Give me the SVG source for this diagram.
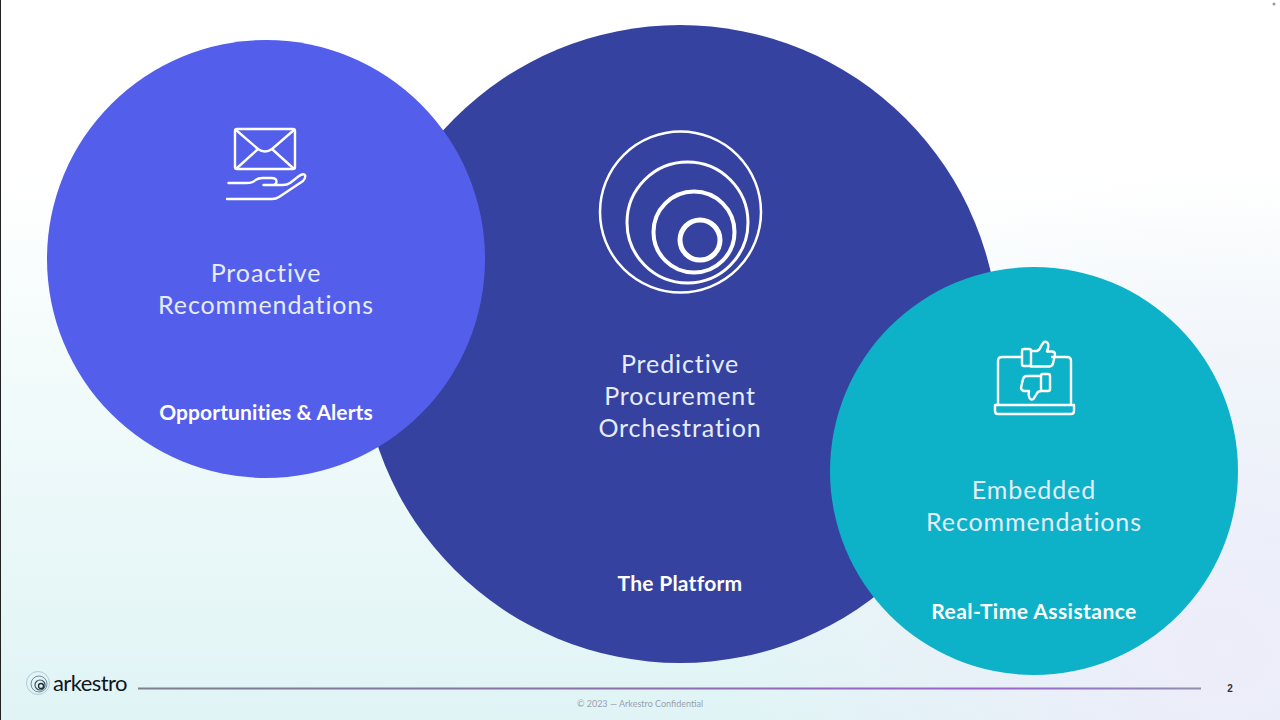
<svg xmlns="http://www.w3.org/2000/svg" width="1280" height="720" viewBox="0 0 1280 720">
<style>
.t{font-family:"Lato","Open Sans",sans-serif;font-size:25px;font-weight:400;fill:#e6ecfb;text-anchor:middle;letter-spacing:.9px}
.b{font-family:"Lato","Open Sans",sans-serif;font-size:21px;font-weight:700;fill:#fff;text-anchor:middle}
.i{fill:none;stroke:#fff;stroke-linecap:round;stroke-linejoin:round}
.r{fill:none;stroke:#fff}
</style>
<defs>
<linearGradient id="bgv" x1="0" y1="0" x2="0" y2="1">
<stop offset="0.25" stop-color="#fff"/><stop offset="0.5" stop-color="#f3fbfb"/><stop offset="1" stop-color="#e0f4f5"/>
</linearGradient>
<radialGradient id="bgr" gradientUnits="userSpaceOnUse" cx="1220" cy="650" r="480">
<stop offset="0" stop-color="#eeecfa" stop-opacity=".95"/><stop offset="1" stop-color="#eeecfa" stop-opacity="0"/>
</radialGradient>
<linearGradient id="ln" x1="0" y1="0" x2="1" y2="0">
<stop offset="0" stop-color="#7d7f8e"/><stop offset=".45" stop-color="#8a6fa8"/><stop offset=".8" stop-color="#9a62d0"/><stop offset="1" stop-color="#8f8fb0"/>
</linearGradient>
</defs>
<rect width="1280" height="720" fill="url(#bgv)"/>
<rect width="1280" height="720" fill="url(#bgr)"/>
<rect x="0" y="0" width="1" height="720" fill="#222"/>
<circle cx="1274" cy="4" r="1.5" fill="#999"/>

<g id="node-platform">
<circle cx="680" cy="344" r="319" fill="#3642a0"/>
<circle class="r" cx="680.5" cy="212" r="80.500" stroke-width="2.500"/>
<circle class="r" cx="687.500" cy="222.500" r="60.500" stroke-width="3"/>
<circle class="r" cx="694" cy="232" r="40.500" stroke-width="4"/>
<circle class="r" cx="700" cy="240" r="20" stroke-width="5"/>
<text class="t" x="680" y="373">Predictive</text>
<text class="t" x="680" y="405">Procurement</text>
<text class="t" x="680" y="437">Orchestration</text>
<text class="b" x="680" y="591" style="letter-spacing:.25px">The Platform</text>
</g>

<g id="node-proactive">
<circle cx="266" cy="259" r="219" fill="#535eeb"/>
<g class="i" stroke-width="2.400">
<rect x="235" y="129" width="60" height="40" rx="2"/>
<path d="M236 130l22 19q7 5 14 0l22-19M237 168l21-19M293 168l-21-19"/>
<path d="M228.500 183h18q6 0 9-3q3-2 7-2h9q5 0 5 3.500t-5 3.500h-8M275 185h8q4 0 7-2l9-7q4-3 6-1q1 3-2 6l-24 16q-3 2-7 2h-45"/>
</g>
<text class="t" x="266" y="282">Proactive</text>
<text class="t" x="266" y="314">Recommendations</text>
<text class="b" x="266" y="420" style="letter-spacing:.1px">Opportunities &amp; Alerts</text>
</g>

<g id="node-embedded">
<circle cx="1034" cy="471" r="204" fill="#0db2c9"/>
<g class="i" stroke-width="2.400">
<path d="M1022 357h-20q-4 0-4 4v43M1052 357h15q4 0 4 4v43"/>
<path d="M995 405h79v6q0 3-3 3h-73q-3 0-3-3z"/>
<rect x="1022" y="349" width="9" height="17" rx="2"/>
<path d="M1031 351h6q3-1 4-5l3-4q3-1 4 1.500q1 3-1 8h5q3 0 3 3l-2 9q-1 3-4 3h-18"/>
<rect x="1041" y="374" width="9" height="17" rx="2"/>
<path d="M1041 376h-14q-3 0-4 3l-2 9q0 2 3 3h5q-1 4 .500 7q1.500 2.500 4 1l3-5q1-3 5-3"/>
</g>
<text class="t" x="1034" y="499">Embedded</text>
<text class="t" x="1034" y="531">Recommendations</text>
<text class="b" x="1034" y="619" style="letter-spacing:.45px">Real-Time Assistance</text>
</g>

<g id="footer">
<g fill="none" stroke="#5d7f92">
<circle cx="38" cy="683" r="11.500" stroke-width=".6" stroke="#8fb0c0"/>
<circle cx="39" cy="684" r="8" stroke-width=".9"/>
<circle cx="40" cy="685" r="5" stroke-width="1.200" stroke="#3c5462"/>
<circle cx="41" cy="686" r="2.500" stroke-width="1.300" stroke="#222b33"/>
</g>
<text x="53" y="691" font-family="Lato,'Open Sans',sans-serif" font-size="22" fill="#10161f" letter-spacing="-.6">arkestro</text>
<rect x="138" y="687.500" width="1063" height="2" fill="url(#ln)"/>
<text x="1230" y="692" font-family="'Liberation Sans',sans-serif" font-size="10" font-weight="700" fill="#333" text-anchor="middle">2</text>
<text x="640" y="707" font-family="Lato,'Open Sans',sans-serif" font-size="9" fill="#9a9fb0" text-anchor="middle">© 2023 — Arkestro Confidential</text>
</g>
</svg>
